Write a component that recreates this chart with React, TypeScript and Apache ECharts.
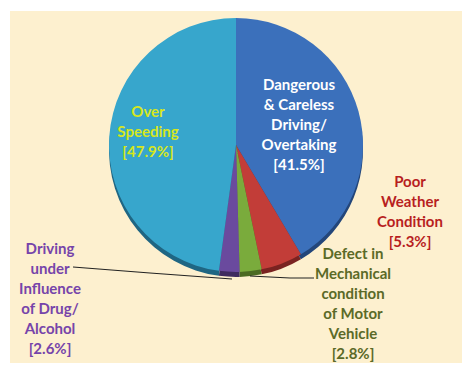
import React, { useEffect, useRef } from "react";
import * as echarts from "echarts";

const categories = [
  "Dangerous\n& Careless\nDriving/\nOvertaking",
  "Poor\nWeather\nCondition",
  "Defect in\nMechanical\ncondition\nof Motor\nVehicle",
  "Driving\nunder\nInfluence\nof Drug/\nAlcohol",
  "Over\nSpeeding",
];
const values = [41.5, 5.3, 2.8, 2.6, 47.9];
const percentLabels = ["[41.5%]", "[5.3%]", "[2.8%]", "[2.6%]", "[47.9%]"];
const sliceColors = ["#3b70bb", "#c23d38", "#7aab3c", "#6a4a9e", "#37a6cc"];
const rimColors = ["#23467a", "#7a2321", "#4b6a22", "#3f2b60", "#1f6683"];
const labelColors = ["#ffffff", "#b81f1f", "#5b6a27", "#7644aa", "#d6e71c"];

export default function App() {
  const ref = useRef<HTMLDivElement>(null);
  useEffect(() => {
    document.body.style.margin = "0";
    const chart = echarts.init(ref.current!, null, { renderer: "svg" });
    const labelPos: Record<number, any> = {
      0: { x: 299, y: 124 },
      1: { x: 410, y: 211 },
      2: { x: 353, y: 303, line: [[250, 276], [290, 278], [314, 278]] },
      3: { x: 50, y: 298, line: [[232, 279], [150, 273], [73, 267]] },
      4: { x: 148, y: 131 },
    };
    chart.setOption({
      animation: false,
      backgroundColor: "#ffffff",
      graphic: [
        {
          type: "rect",
          z: -10,
          shape: { x: 10, y: 11, width: 452, height: 352 },
          style: { fill: "#fdf0cf" },
        },
      ],
      series: [
        {
          type: "pie",
          silent: true,
          z: 1,
          center: [236, 150],
          radius: 127,
          startAngle: 90,
          clockwise: true,
          label: { show: false },
          labelLine: { show: false },
          data: values.map((v, i) => ({
            value: v,
            name: "rim" + i,
            itemStyle: { color: rimColors[i] },
          })),
        },
        {
          type: "pie",
          z: 2,
          center: [236, 145],
          radius: 127,
          startAngle: 90,
          clockwise: true,
          itemStyle: { borderWidth: 0 },
          label: {
            show: true,
            fontFamily: "Lato",
            fontWeight: "bold",
            fontSize: 15,
            lineHeight: 20,
            align: "center",
            overflow: "none",
            alignTo: "none",
            formatter: (p: any) => p.name + "\n" + percentLabels[p.dataIndex],
          },
          labelLine: { show: true, lineStyle: { color: "#222", width: 1.2 } },
          labelLayout: (p: any) => {
            const o = labelPos[p.dataIndex];
            const r: any = { x: o.x, y: o.y, align: "center", verticalAlign: "middle" };
            if (o.line) r.labelLinePoints = o.line;
            return r;
          },
          data: values.map((v, i) => ({
            value: v,
            name: categories[i],
            itemStyle: { color: sliceColors[i] },
            label: {
              color: labelColors[i],
              position: i === 0 || i === 4 ? "inside" : "outside",
              width: 120,
              overflow: "none",
            },
            labelLine: { show: i === 2 || i === 3 },
          })),
        },
      ],
    });
    return () => chart.dispose();
  }, []);
  return <div ref={ref} style={{ width: 474, height: 376 }} />;
}
